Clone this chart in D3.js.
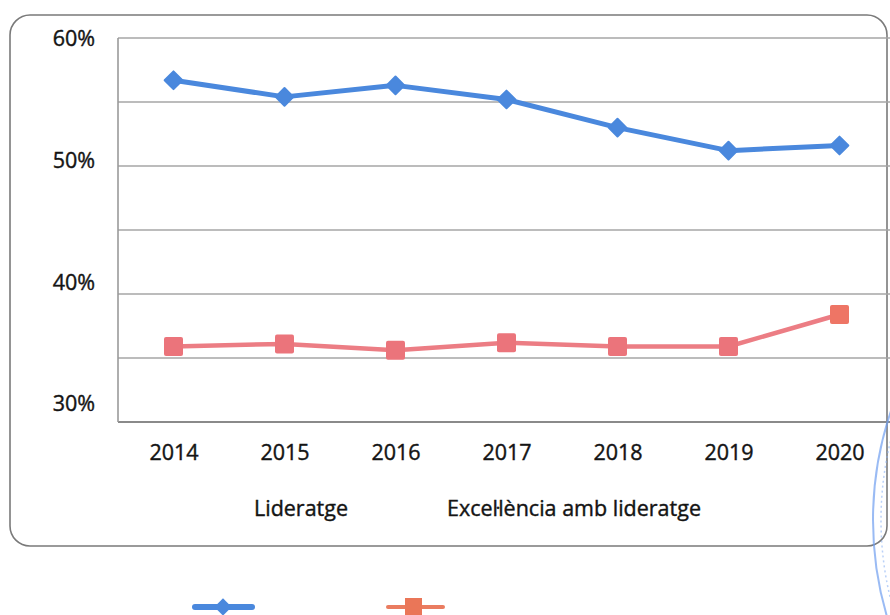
<!DOCTYPE html>
<html lang="ca">
<head>
<meta charset="UTF-8">
<title>Lideratge</title>
<script src="https://cdn.jsdelivr.net/npm/d3@7/dist/d3.min.js"></script>
<style>
    html, body { margin: 0; padding: 0; background: #fff; }
    svg { display: block; font-family: "Open Sans", sans-serif; }
    .lbl { font-size: 21.5px; font-weight: 400; fill: #141414; stroke: #141414; stroke-width: 0.4px; }
</style>
</head>
<body>
<div id="chart"></div>
<script>
    // values (percent)
    const years = ["2014", "2015", "2016", "2017", "2018", "2019", "2020"];
    const lideratge = [56.7, 55.4, 56.3, 55.2, 53.0, 51.2, 51.6];
    const excelLideratge = [35.9, 36.1, 35.6, 36.2, 35.9, 35.9, 38.4];
    const yTicks = [30, 40, 50, 60];
    const gridTicks = [30, 35, 40, 45, 50, 55, 60];
    const seriesNames = ["Lideratge", "Excel·lència amb lideratge"];

    const W = 890, H = 615;
    const plot = { left: 118, right: 895, top: 38, bottom: 422 };

    const svg = d3.select("#chart").append("svg")
        .attr("width", W).attr("height", H);

    // outer rounded frame
    svg.append("rect")
        .attr("x", 10).attr("y", 15)
        .attr("width", 877).attr("height", 531)
        .attr("rx", 20).attr("ry", 20)
        .attr("fill", "none")
        .attr("stroke", "#7a7a7a")
        .attr("stroke-width", 1.6);

    const x = d3.scalePoint()
        .domain(years)
        .range([plot.left, plot.right])
        .padding(0.5);

    const y = d3.scaleLinear()
        .domain([30, 60])
        .range([plot.bottom, plot.top]);

    // the scanned labels sit slightly above their gridlines
    const yLabel = d3.scaleLinear()
        .domain([30, 60])
        .range([404, 39]);

    // gridlines
    svg.append("g")
        .selectAll("line")
        .data(gridTicks)
        .enter().append("line")
        .attr("x1", plot.left)
        .attr("x2", W)
        .attr("y1", d => y(d))
        .attr("y2", d => y(d))
        .attr("stroke", d => d === 30 ? "#8a8a8a" : "#a6a6a6")
        .attr("stroke-width", d => d === 30 ? 2 : 1.4);

    // left axis line
    svg.append("line")
        .attr("x1", plot.left).attr("x2", plot.left)
        .attr("y1", plot.top).attr("y2", plot.bottom)
        .attr("stroke", "#9a9a9a")
        .attr("stroke-width", 1.6);

    const yAxis = svg.append("g")
        .attr("transform", `translate(${plot.left},0)`)
        .call(d3.axisLeft(yLabel).tickValues(yTicks).tickSize(0).tickPadding(23)
            .tickFormat(d => d + "%"));
    yAxis.select(".domain").remove();
    yAxis.selectAll("text")
        .attr("class", "lbl")
        .attr("fill", null);
    yAxis.attr("font-size", null).attr("font-family", null);

    const xAxis = svg.append("g")
        .attr("transform", `translate(0,${plot.bottom})`)
        .call(d3.axisBottom(x).tickSize(0).tickPadding(23));
    xAxis.select(".domain").remove();
    xAxis.selectAll("text")
        .attr("class", "lbl")
        .attr("fill", null);
    xAxis.attr("font-size", null).attr("font-family", null);

    const line = d3.line()
        .x((d, i) => x(years[i]))
        .y(d => y(d));

    // Lideratge (blue, diamonds)
    svg.append("path")
        .datum(lideratge)
        .attr("fill", "none")
        .attr("stroke", "#4a88dd")
        .attr("stroke-width", 5)
        .attr("stroke-linejoin", "round")
        .attr("d", line);

    svg.append("g")
        .selectAll("path")
        .data(lideratge)
        .enter().append("path")
        .attr("d", d3.symbol().type(d3.symbolDiamond2).size(200))
        .attr("transform", (d, i) => `translate(${x(years[i])},${y(d)})`)
        .attr("fill", "#4a88dd")
        .attr("stroke", "#4a88dd")
        .attr("stroke-width", 2)
        .attr("stroke-linejoin", "round");

    // Excel·lència amb lideratge (red, squares)
    svg.append("path")
        .datum(excelLideratge)
        .attr("fill", "none")
        .attr("stroke", "#ec7d84")
        .attr("stroke-width", 4.5)
        .attr("stroke-linejoin", "round")
        .attr("d", line);

    svg.append("g")
        .selectAll("rect")
        .data(excelLideratge)
        .enter().append("rect")
        .attr("x", (d, i) => x(years[i]) - 9.5)
        .attr("y", d => y(d) - 9.5)
        .attr("width", 19).attr("height", 19)
        .attr("rx", 2)
        .attr("fill", (d, i) => i === years.length - 1 ? "#ee7565" : "#eb747b");

    // series names (inside the frame)
    svg.append("text")
        .attr("class", "lbl")
        .attr("x", 301).attr("y", 516)
        .attr("text-anchor", "middle")
        .text(seriesNames[0]);

    svg.append("text")
        .attr("class", "lbl")
        .attr("x", 447).attr("y", 516)
        .text(seriesNames[1]);

    // legend samples (below the frame)
    const lg = svg.append("g");
    lg.append("line")
        .attr("x1", 195).attr("x2", 252).attr("y1", 607).attr("y2", 607)
        .attr("stroke", "#4a88dd").attr("stroke-width", 6).attr("stroke-linecap", "round");
    lg.append("path")
        .attr("d", d3.symbol().type(d3.symbolDiamond2).size(190))
        .attr("transform", "translate(223,607)")
        .attr("fill", "#4a88dd");

    lg.append("line")
        .attr("x1", 388).attr("x2", 443).attr("y1", 607).attr("y2", 607)
        .attr("stroke", "#ea7c60").attr("stroke-width", 4).attr("stroke-linecap", "round");
    lg.append("rect")
        .attr("x", 405).attr("y", 598).attr("width", 17).attr("height", 17)
        .attr("fill", "#ea7658");

    // faint stamp edge on the right of the scan
    svg.append("circle")
        .attr("cx", 1213).attr("cy", 520).attr("r", 340)
        .attr("fill", "none")
        .attr("stroke", "#6f9ef0")
        .attr("stroke-width", 2)
        .attr("opacity", 0.7);
    svg.append("circle")
        .attr("cx", 1213).attr("cy", 520).attr("r", 332)
        .attr("fill", "none")
        .attr("stroke", "#8cb3f3")
        .attr("stroke-width", 1.5)
        .attr("stroke-dasharray", "2 3")
        .attr("opacity", 0.6);
</script>
</body>
</html>
